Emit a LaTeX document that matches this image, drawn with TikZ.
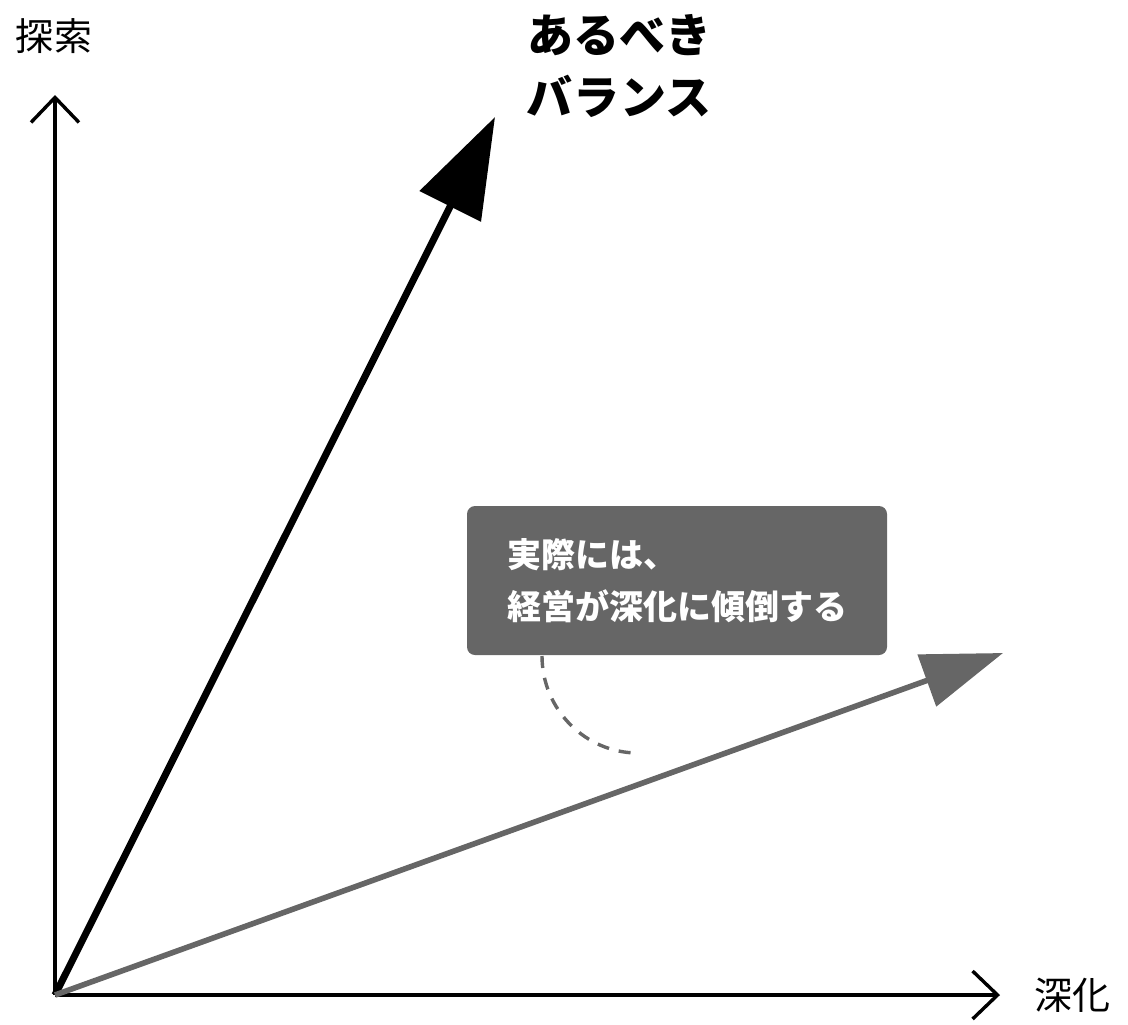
\documentclass[tikz,border=0pt]{standalone}
\usepackage{fontspec}
\setmainfont{Noto Sans CJK JP}
\newfontfamily\kanafont[RawFeature=+palt, LetterSpace=8]{Noto Sans CJK JP}
\usepackage{xcolor}
\usepackage{tikz}
\usetikzlibrary{arrows.meta}
\usetikzlibrary{positioning}

\definecolor{notegray}{HTML}{666666}

\tikzset{
    axisline/.style={line width=1.7pt, line join=miter, -{Straight Barb[length=12.5pt,width=24pt]}},
    axislabel/.style={inner sep=0pt, font=\fontsize{19pt}{22pt}\selectfont},
    idealarrow/.style={line width=3.5pt, -{Triangle[length=50pt,width=33.5pt]}},
    actualarrow/.style={line width=2.8pt, color=notegray, -{Triangle[length=40.5pt,width=27pt]}},
    notebox/.style={fill=notegray, rounded corners=4pt, text=white, align=left, inner sep=0pt,
        minimum width=210pt, minimum height=74.5pt, font=\fontsize{17pt}{26pt}\selectfont\bfseries},
    bendline/.style={line width=1.7pt, color=notegray, dash pattern=on 6pt off 5pt}
}

\begin{document}
\begin{tikzpicture}[x=0.5pt, y=-0.5pt]
                \useasboundingbox (0,0) rectangle (1128,1024);

                \coordinate (origin) at (55,995);
                \coordinate (ytop) at (55,95);
                \coordinate (xend) at (1000,995);
                \coordinate (idealtip) at (495,117);
                \coordinate (actualtip) at (1003,653);

                \node[axislabel] (explore) at (54,36) {探索};
                \node[axislabel] (deepen) at (1072,995) {深化};

                \node[
                    anchor=west,
                    inner sep=0pt,
                    align=left,
                    font=\fontsize{23pt}{31pt}\selectfont\bfseries
                ] (ideal) at (527,66) {あるべき\\{\kanafont\bfseries バランス}};

                \node[notebox] (note) at (677,580.5) {実際には、\\経営が深化に傾倒する};

                \coordinate (bendstart) at (542,656);
                \coordinate (bendend) at (638,753);

                \draw[axisline] (origin) -- (ytop);
                \draw[axisline] (origin) -- (xend);

                \draw[idealarrow] (origin) -- (idealtip);
                \draw[actualarrow] (origin) -- (actualtip);

                \draw[bendline] (bendstart) .. controls (542,709) and (585,753) .. (bendend);

\end{tikzpicture}
\end{document}
